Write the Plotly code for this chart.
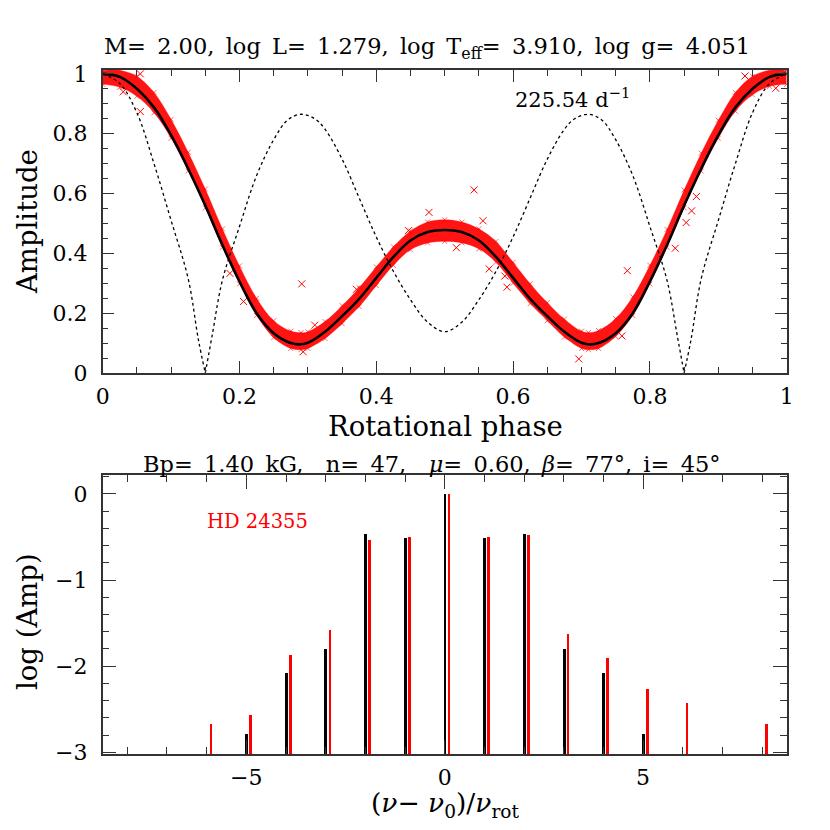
import plotly.graph_objects as go

# ---------------- data: top panel ----------------
phase = [0.000, 0.025, 0.050, 0.075, 0.100, 0.125, 0.150, 0.175, 0.200, 0.225,
         0.250, 0.275, 0.290, 0.300, 0.325, 0.350, 0.375, 0.400, 0.425, 0.450,
         0.475, 0.500, 0.525, 0.550, 0.575, 0.600, 0.625, 0.650, 0.675, 0.700,
         0.710, 0.725, 0.750, 0.775, 0.800, 0.825, 0.850, 0.875, 0.900, 0.925,
         0.950, 0.975, 1.000]
amp_model = [1.000, 0.990, 0.950, 0.888, 0.795, 0.683, 0.560, 0.428, 0.306, 0.200,
             0.133, 0.100, 0.096, 0.101, 0.138, 0.190, 0.248, 0.318, 0.388, 0.443,
             0.471, 0.478, 0.471, 0.443, 0.388, 0.318, 0.248, 0.190, 0.138, 0.101,
             0.096, 0.100, 0.133, 0.200, 0.306, 0.428, 0.560, 0.683, 0.795, 0.888,
             0.950, 0.990, 1.000]
obs_lo = [0.965, 0.955, 0.925, 0.870, 0.785, 0.675, 0.552, 0.420, 0.298, 0.192,
          0.118, 0.082, 0.078, 0.082, 0.115, 0.165, 0.222, 0.292, 0.360, 0.412,
          0.435, 0.440, 0.435, 0.415, 0.370, 0.300, 0.232, 0.175, 0.120, 0.082,
          0.078, 0.082, 0.122, 0.192, 0.298, 0.420, 0.552, 0.675, 0.785, 0.875,
          0.930, 0.958, 0.965]
obs_hi = [1.012, 1.012, 0.992, 0.938, 0.848, 0.738, 0.615, 0.482, 0.358, 0.250,
          0.175, 0.140, 0.135, 0.138, 0.172, 0.225, 0.285, 0.355, 0.422, 0.475,
          0.505, 0.512, 0.505, 0.482, 0.440, 0.370, 0.298, 0.235, 0.180, 0.140,
          0.135, 0.142, 0.182, 0.255, 0.360, 0.480, 0.612, 0.735, 0.845, 0.938,
          0.992, 1.012, 1.012]

phase_dot = [0.000, 0.025, 0.050, 0.075, 0.100, 0.125, 0.140, 0.150, 0.160, 0.175,
             0.200, 0.225, 0.250, 0.270, 0.290, 0.310, 0.325, 0.350, 0.375, 0.400,
             0.425, 0.450, 0.475, 0.500, 0.525, 0.550, 0.575, 0.600, 0.625, 0.650,
             0.675, 0.690, 0.710, 0.730, 0.750, 0.775, 0.800, 0.825, 0.840, 0.850,
             0.860, 0.875, 0.900, 0.925, 0.950, 0.975, 1.000]
amp_dot = [1.000, 0.968, 0.870, 0.700, 0.510, 0.315, 0.110, 0.000, 0.125, 0.310,
           0.490, 0.660, 0.780, 0.845, 0.865, 0.850, 0.815, 0.715, 0.585, 0.455,
           0.340, 0.245, 0.170, 0.138, 0.170, 0.245, 0.340, 0.455, 0.585, 0.715,
           0.815, 0.850, 0.865, 0.845, 0.780, 0.660, 0.490, 0.310, 0.125, 0.000,
           0.110, 0.315, 0.510, 0.700, 0.870, 0.968, 1.000]

outlier_phase = [0.030, 0.055, 0.055, 0.186, 0.206, 0.291, 0.293, 0.310, 0.371, 0.447,
                 0.477, 0.517, 0.543, 0.556, 0.565, 0.588, 0.591, 0.696, 0.759, 0.767,
                 0.837, 0.853, 0.861, 0.868, 0.939, 0.984]
outlier_amp = [0.940, 1.000, 0.874, 0.333, 0.239, 0.298, 0.071, 0.160, 0.280, 0.476,
               0.537, 0.419, 0.612, 0.509, 0.348, 0.324, 0.287, 0.047, 0.124, 0.342,
               0.417, 0.503, 0.542, 0.590, 0.993, 0.952]

# ---------------- data: bottom panel ----------------
harm_model = [-5, -4, -3, -2, -1, 0, 1, 2, 3, 4, 5]
logamp_model = [-2.79, -2.08, -1.80, -0.47, -0.51, 0.00, -0.51, -0.47, -1.80, -2.08, -2.79]
harm_obs = [-6, -5, -4, -3, -2, -1, 0, 1, 2, 3, 4, 5, 6, 8]
logamp_obs = [-2.67, -2.57, -1.87, -1.58, -0.53, -0.50, 0.00, -0.50, -0.475, -1.63,
              -1.91, -2.27, -2.43, -2.67]

# ---------------- styling ----------------
PAGE_PAD = 8          # default body margin of the html page
W = H = 830 - 2 * PAGE_PAD
FONT = "DejaVu Serif"
RED = "#ff0000"
AX = "#333333"
OBS_SHIFT = 0.1      # observed lines drawn slightly right of the model lines
BAR_FLOOR = -3.1
SP = "\u2002"        # wide (en) space, like the original plotting font
GAP = SP + SP


def px(x):
    return (x - PAGE_PAD) / W


def py(y):
    return 1 - (y - PAGE_PAD) / H


fig = go.Figure()

# observed band (dense crosses) in the top panel
fig.add_trace(go.Scatter(x=phase, y=obs_lo, mode="lines", line=dict(color="rgba(255,0,0,0.5)", width=0.5, shape="spline"),
                         hoverinfo="skip", showlegend=False))
fig.add_trace(go.Scatter(x=phase, y=obs_hi, mode="lines", line=dict(color="rgba(255,0,0,0.5)", width=0.5, shape="spline"),
                         fill="tonexty", fillcolor="rgba(255,0,0,0.92)", hoverinfo="skip", showlegend=False))
fig.add_trace(go.Scatter(x=phase + phase, y=obs_lo + obs_hi, mode="markers",
                         marker=dict(symbol="x-thin", size=5, line=dict(color="rgba(255,0,0,0.6)", width=1)),
                         hoverinfo="skip", showlegend=False))
fig.add_trace(go.Scatter(x=outlier_phase, y=outlier_amp, mode="markers",
                         marker=dict(symbol="x-thin", size=7, line=dict(color=RED, width=1)),
                         showlegend=False))

# dotted curve, split at its zeros so the V-shapes stay sharp
cuts = [0] + [i for i, v in enumerate(amp_dot) if v == 0.0] + [len(amp_dot) - 1]
for a, b in zip(cuts[:-1], cuts[1:]):
    fig.add_trace(go.Scatter(x=phase_dot[a:b + 1], y=amp_dot[a:b + 1], mode="lines",
                             line=dict(color="black", width=1.3, dash="dot", shape="spline"),
                             showlegend=False))

# model curve
fig.add_trace(go.Scatter(x=phase, y=amp_model, mode="lines",
                         line=dict(color="black", width=2.6, shape="spline"), showlegend=False))

# bottom panel bars
fig.add_trace(go.Bar(x=harm_model, y=[v - BAR_FLOOR for v in logamp_model], base=BAR_FLOOR,
                     width=0.075, marker=dict(color="black", line=dict(width=0)),
                     xaxis="x2", yaxis="y2", showlegend=False))
fig.add_trace(go.Bar(x=[h + OBS_SHIFT for h in harm_obs], y=[v - BAR_FLOOR for v in logamp_obs],
                     base=BAR_FLOOR, width=0.065, marker=dict(color=RED, line=dict(width=0)),
                     xaxis="x2", yaxis="y2", showlegend=False))

tickfont = dict(family=FONT, size=22, color="black")
common = dict(showline=True, linecolor=AX, linewidth=1.5, mirror="allticks", ticks="inside",
              tickcolor=AX, tickwidth=1.3, showgrid=False, zeroline=False, tickfont=tickfont,
              automargin=False)

xd = [px(102.7), px(786.7)]
fig.update_layout(
    width=W, height=H, margin=dict(l=0, r=0, t=0, b=0, autoexpand=False),
    paper_bgcolor="white", plot_bgcolor="white", barmode="overlay", bargap=0,
    xaxis=dict(domain=xd, range=[0, 1], dtick=0.2, ticklen=12, ticklabelstandoff=3,
               minor=dict(dtick=0.05, ticklen=6, ticks="inside", tickcolor=AX, tickwidth=1.3),
               anchor="y", **common),
    yaxis=dict(domain=[py(373), py(70)], range=[0, 1.013], dtick=0.2, ticklen=12, ticklabelstandoff=9,
               minor=dict(dtick=0.05, ticklen=6, ticks="inside", tickcolor=AX, tickwidth=1.3),
               anchor="x", **common),
    xaxis2=dict(domain=xd, range=[-8.62, 8.62], dtick=5, ticklen=14, ticklabelstandoff=3,
                minor=dict(dtick=1, ticklen=7, ticks="inside", tickcolor=AX, tickwidth=1.3),
                anchor="y2", **common),
    yaxis2=dict(domain=[py(754), py(475)], range=[-3.02, 0.22], dtick=1, ticklen=14, ticklabelstandoff=9,
                minor=dict(dtick=0.2, ticklen=7, ticks="inside", tickcolor=AX, tickwidth=1.3),
                anchor="x2", **common),
)

lab_font = dict(family=FONT, size=27.5, color="black")
title_font = dict(family=FONT, size=22.5, color="black")
annotations = [
    dict(text=f"M={SP}2.00,{SP}log{SP}L={SP}1.279,{SP}log{SP}T<sub>eff</sub>={SP}3.910,{SP}log{SP}g={SP}4.051",
         x=px(102), y=py(48), xanchor="left", yanchor="middle", font=title_font),
    dict(text="225.54 d<sup>−1</sup>", x=px(513), y=py(98), xanchor="left", yanchor="middle",
         font=dict(family=FONT, size=21, color="black")),
    dict(text="Amplitude", x=px(27), y=py(222), textangle=-90, xanchor="center", yanchor="middle", font=lab_font),
    dict(text="Rotational phase", x=px(445), y=py(426), xanchor="center", yanchor="middle", font=lab_font),
    dict(text=f"Bp={SP}1.40{SP}kG,{GAP}n={SP}47,{GAP}<i>μ</i>={SP}0.60,{SP}<i>β</i>={SP}77°,{SP}i={SP}45°",
         x=px(432), y=py(464), xanchor="center", yanchor="middle", font=title_font),
    dict(text="HD 24355", x=px(205), y=py(521), xanchor="left", yanchor="middle",
         font=dict(family=FONT, size=19.5, color=RED)),
    dict(text="log (Amp)", x=px(27), y=py(622), textangle=-90, xanchor="center", yanchor="middle", font=lab_font),
    dict(text="(<i>ν</i>− <i>ν</i><sub>0</sub>)/<i>ν</i><sub>rot</sub>", x=px(445), y=py(804),
         xanchor="center", yanchor="middle", font=dict(family=FONT, size=26.5, color="black")),
]
for a in annotations:
    a.update(xref="paper", yref="paper", showarrow=False)
fig.update_layout(annotations=annotations)

fig.write_html("out.html")
